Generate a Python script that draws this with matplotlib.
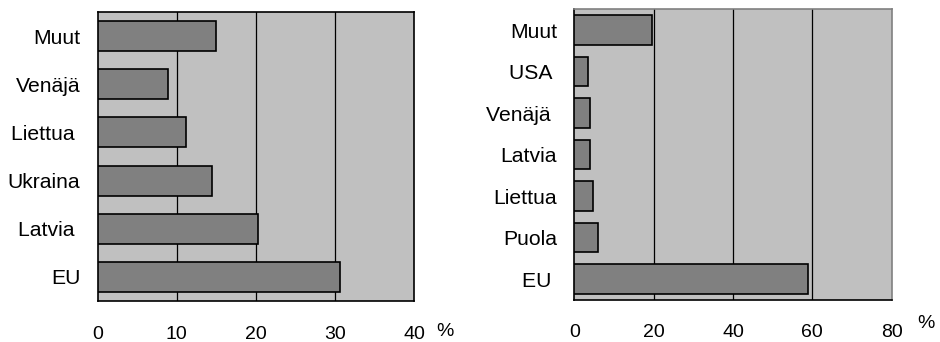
import matplotlib.pyplot as plt

plt.rcParams['font.family'] = ['Liberation Sans', 'DejaVu Sans']

# Left chart: shares, %
left_labels = ['EU', 'Latvia ', 'Ukraina', 'Liettua ', 'Venäjä', 'Muut']
left_values = [30.6, 20.3, 14.5, 11.2, 8.9, 15.0]
left_ticks = [0, 10, 20, 30, 40]

# Right chart: shares, %
right_labels = ['EU ', 'Puola', 'Liettua', 'Latvia', 'Venäjä ', 'USA ', 'Muut']
right_values = [59.0, 6.0, 4.8, 4.0, 4.0, 3.5, 19.5]
right_ticks = [0, 20, 40, 60, 80]

fs_y = 15.2
fs_x = 14
bg = '#c0c0c0'
bar_col = '#808080'

fig = plt.figure(figsize=(9.4, 3.42), dpi=100)

# left panel
ax1 = fig.add_axes([97.5 / 940, 41 / 342, 316.5 / 940, 289 / 342])
ax1.set_facecolor(bg)
ax1.barh(range(len(left_labels)), left_values, height=0.62,
         color=bar_col, edgecolor='black', linewidth=1.2, zorder=3)
ax1.set_xlim(0, 40)
ax1.set_ylim(-0.5, len(left_labels) - 0.5)
ax1.set_xticks(left_ticks)
ax1.set_yticks(range(len(left_labels)))
ax1.set_yticklabels(left_labels)
for x in left_ticks[1:-1]:
    ax1.axvline(x, color='black', linewidth=0.9, zorder=1)
for s in ax1.spines.values():
    s.set_color('black')
    s.set_linewidth(1.2)
ax1.tick_params(axis='x', length=0, pad=18, labelsize=fs_x)
ax1.tick_params(axis='y', length=0, pad=12.5, labelsize=fs_y)
fig.text(445 / 940, 1 - 332 / 342, '%', fontsize=fs_x, ha='center', va='center')

# right panel
ax2 = fig.add_axes([574.3 / 940, 42 / 342, 317.4 / 940, 290.7 / 342])
ax2.set_facecolor(bg)
ax2.barh(range(len(right_labels)), right_values, height=0.71,
         color=bar_col, edgecolor='black', linewidth=1.2, zorder=3)
ax2.set_xlim(0, 80)
ax2.set_ylim(-0.5, len(right_labels) - 0.5)
ax2.set_xticks(right_ticks)
ax2.set_yticks(range(len(right_labels)))
ax2.set_yticklabels(right_labels)
for x in right_ticks[1:-1]:
    ax2.axvline(x, color='black', linewidth=0.9, zorder=1)
ax2.spines['left'].set_color('black')
ax2.spines['bottom'].set_color('black')
ax2.spines['top'].set_color('#808080')
ax2.spines['right'].set_color('#808080')
for s in ax2.spines.values():
    s.set_linewidth(1.2)
ax2.tick_params(axis='x', length=0, pad=17, labelsize=fs_x)
ax2.tick_params(axis='y', length=0, pad=12.5, labelsize=fs_y)
fig.text(926 / 940, 1 - 324 / 342, '%', fontsize=fs_x, ha='center', va='center')

fig.savefig('out.png', dpi=100)
